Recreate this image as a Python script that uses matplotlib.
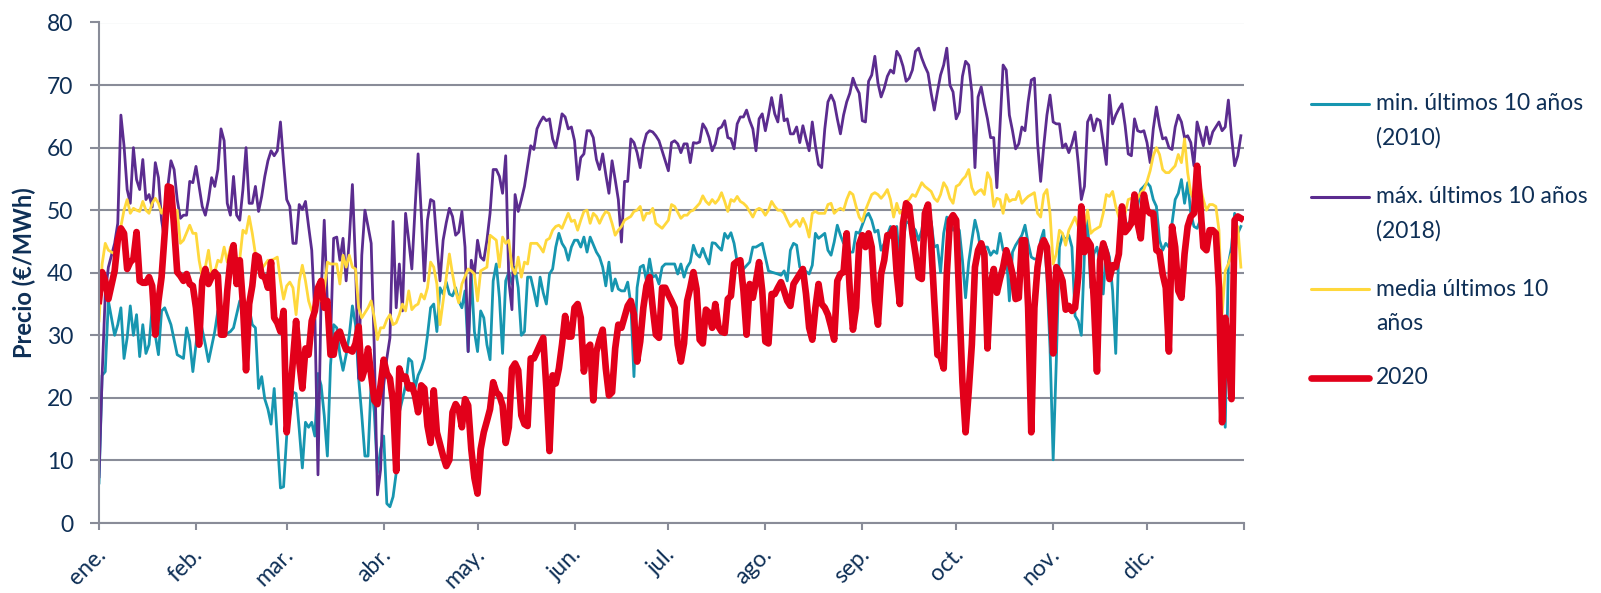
import pandas as pd
import matplotlib.pyplot as plt
import matplotlib.transforms as mtransforms
from matplotlib.lines import Line2D

plt.rcParams['font.family'] = ['Lato', 'DejaVu Sans']

# Precio diario (€/MWh), día del año 2020 (0 = 1 de enero)
dias_min = [0, 1, 2, 3, 5, 6, 7, 8, 9, 10, 11, 12, 13, 14, 15, 16, 17, 18, 19, 20, 21, 23, 25, 27, 28, 29, 30, 31, 32, 34,
            35, 37, 38, 39, 40, 42, 43, 45, 46, 48, 49, 50, 51, 52, 53, 54, 55, 56, 58, 59, 60, 62, 63, 64, 65, 66, 67, 68, 69, 70,
            71, 72, 73, 74, 75, 76, 77, 78, 79, 80, 81, 82, 83, 84, 85, 86, 87, 88, 89, 90, 91, 92, 93, 94, 95, 96, 97, 98, 99, 100,
            101, 102, 103, 104, 105, 106, 107, 108, 109, 110, 111, 112, 113, 114, 115, 116, 117, 118, 119, 120, 121, 122, 123, 124, 125, 126, 127, 128, 129, 130,
            131, 132, 133, 134, 135, 136, 137, 138, 139, 140, 141, 142, 143, 144, 145, 146, 147, 148, 149, 150, 151, 152, 153, 154, 155, 156, 157, 159, 160, 161,
            162, 163, 164, 165, 166, 167, 168, 169, 170, 171, 172, 173, 174, 175, 176, 177, 178, 179, 180, 181, 182, 183, 184, 185, 186, 187, 188, 189, 190, 191,
            192, 193, 194, 195, 196, 197, 198, 199, 200, 201, 202, 203, 204, 206, 208, 209, 210, 212, 214, 215, 217, 218, 219, 220, 221, 222, 223, 224, 225, 227,
            228, 229, 230, 232, 233, 234, 235, 236, 237, 238, 239, 240, 241, 242, 243, 245, 246, 247, 248, 249, 250, 251, 253, 254, 255, 256, 257, 258, 259, 260,
            261, 262, 263, 264, 265, 266, 267, 268, 269, 270, 271, 272, 273, 274, 275, 276, 277, 278, 279, 280, 281, 282, 283, 284, 285, 286, 287, 288, 289, 290,
            291, 292, 293, 294, 295, 296, 297, 298, 299, 300, 301, 302, 303, 304, 305, 306, 307, 308, 309, 310, 311, 312, 313, 314, 315, 316, 317, 318, 319, 320,
            321, 322, 323, 324, 325, 326, 327, 328, 330, 331, 332, 333, 334, 335, 336, 337, 338, 339, 340, 341, 342, 344, 345, 346, 347, 348, 349, 350, 351, 352,
            353, 354, 355, 356, 357, 358, 359, 360, 361, 362, 363, 364, 365]
precio_min = [6.4, 23.6, 24.2, 35.5, 30, 31.7, 34.4, 26.3, 29.6, 34.7, 30, 33.3, 26.6, 31.7, 27.1, 28.5, 34.4, 30, 26.9, 33.9, 34.4, 31.7, 26.9, 26.3, 31.2, 29, 24.2, 28.5, 33.3, 28.5,
              25.8, 30.6, 33.9, 30, 30, 30.6, 31.2, 35.5, 35.5, 34.4, 31.7, 31.2, 21.5, 23.4, 19.8, 18.2, 15.8, 21.5, 5.6, 5.8, 13.9, 20.9, 20.7, 15, 8.8, 16.1, 15.3, 16.1, 13.9, 23.9,
              22, 17.2, 10.7, 25.2, 31.7, 31.2, 26.9, 24.4, 26.9, 30, 34.7, 31.7, 23.1, 17.2, 10.7, 10.7, 22.5, 17.7, 8, 11.8, 13.9, 3.1, 2.6, 4.2, 8, 17.7, 19.8, 22, 26.3, 25.8,
              21.5, 23.6, 24.7, 26.3, 30, 34.4, 35, 30.6, 37.6, 36.6, 38.5, 36.6, 36.3, 37.6, 35.5, 34.4, 37.1, 27.4, 39.8, 30.6, 27.4, 33.9, 32.8, 28.5, 26.1, 38.7, 41.4, 36, 27.1, 38.7,
              40.1, 38.2, 40.9, 37.6, 30, 30.6, 39.3, 39.3, 37.1, 34.7, 39.3, 36.8, 35, 39.8, 40.6, 44.1, 46.3, 44.7, 43.9, 42, 44.1, 45.2, 45.2, 44.1, 45.7, 43.3, 45.7, 43.3, 42.5, 40.9,
              37.9, 41.7, 37.1, 39, 37.4, 37.1, 37.1, 38.5, 35, 23.4, 37.6, 40.9, 41.2, 38.7, 42.2, 39.3, 39.6, 38.2, 40.9, 41.4, 41.4, 41.4, 41.4, 39.8, 41.4, 39.3, 40.9, 41.7, 44.4, 43,
              42.5, 43.9, 42.5, 41.4, 44.8, 44.7, 44.1, 43.6, 46.3, 45.5, 46.4, 44.7, 41.7, 40.6, 41.7, 44.1, 44.1, 44.7, 40.3, 40.1, 39.8, 39.6, 40.3, 38.7, 43.6, 44.7, 44.4, 40.9, 40.6, 39.8,
              41.2, 46.3, 45.5, 46.3, 43.6, 42.8, 44.9, 47.6, 46, 44.7, 45.7, 43.3, 43.3, 46.5, 46.3, 49, 49.5, 48.4, 46.5, 46.8, 43.6, 44.7, 47.4, 46.3, 47.4, 41.2, 44.7, 48.2, 47.9, 47.4,
              46.8, 45.2, 46.8, 50, 49, 48.2, 44.1, 44.4, 40.1, 46.3, 48.9, 48.2, 46.8, 47.4, 46.8, 42, 36, 41.7, 45.2, 48.4, 46.3, 43, 44.1, 44.1, 42.8, 43.5, 43.1, 46.3, 43.6, 43.3,
              35.5, 43.3, 44.4, 45.2, 46, 47.6, 44.7, 42.5, 42.2, 42.2, 45.2, 46.8, 39.5, 27.9, 10.1, 25.8, 44.1, 46, 45.2, 46, 44.1, 33.1, 32.3, 30, 43, 48.4, 37.6, 43, 44.1, 41.4,
              36.6, 44.1, 42.5, 37.1, 27.1, 44.1, 47.4, 47.4, 48.4, 48.7, 50.6, 53.3, 53.8, 54.4, 53.8, 51.7, 50.6, 45.2, 43.6, 44.7, 44.1, 51.7, 52.7, 54.9, 51.1, 54.4, 49.5, 47.4, 47.1, 48.4,
              46.3, 44.7, 46.8, 46.8, 46.3, 44.1, 27.9, 15.3, 41.4, 44.1, 49.5, 46.3, 47.4]

dias_max = [0, 1, 2, 3] + list(range(5, 180)) + list(range(182, 366))
precio_max = [7.4, 23.6, 36.6, 40.9,
              44.7, 47.9, 65.2, 60.3, 53.3, 51.1, 60, 54.9, 53.3, 58.1, 51.7, 52.5, 50.5, 57.6, 55.2, 48.4, 45.2, 53.8, 57.9, 56.5, 51.7, 48.7, 49.2, 49.2, 54.6, 54.4, 57,
              53.8, 50.6, 49.2, 51.7, 55.2, 53.8, 56.5, 63, 61.1, 51.1, 49.2, 55.4, 49.2, 48.4, 53.3, 60, 51.1, 51.1, 53.8, 49.8, 52.2, 55.4, 57.9, 59.5, 58.7, 59.5, 64.1, 57.6, 51.7, 50.6,
              44.7, 44.7, 50.9, 50.1, 51.4, 47.4, 43.6, 33.3, 7.7, 36.6, 48.4, 35, 29, 45.5, 45.7, 42, 45.5, 38.7, 45.2, 54.1, 41.4, 23.1, 42.8, 50, 47.4, 44.7, 27.9, 4.5, 8.5, 22,
              26.3, 29.6, 48.2, 34.4, 41.4, 33.9, 49.5, 45.2, 40.6, 50, 59, 49.5, 38.7, 48.4, 51.7, 51.4, 44.7, 38.7, 45.2, 48, 50.3, 49, 46, 46.5, 49.8, 44.1, 27.4, 42, 39.8, 45.2,
              42.5, 42, 45.2, 49.5, 56.5, 56.5, 55.4, 52.7, 58.7, 38.7, 34.1, 52.5, 49.8, 51.7, 53.8, 57, 60.3, 59.7, 63, 64.1, 64.9, 64.3, 64.6, 61.4, 60, 62.5, 65.4, 64.9, 63, 63.3,
              61.1, 54.9, 58.4, 59, 62.7, 62.7, 61.6, 58.1, 56.5, 59, 55.7, 52.7, 57.9, 54.9, 51.7, 44.9, 54.6, 54.6, 61.4, 60.8, 59.2, 56.8, 60.3, 62.2, 62.7, 62.5, 61.9, 61.1,
              56.3, 60.8, 61.1, 60.6, 59.2, 60.6, 60.6, 57.6, 60.8, 60.7, 60.9, 63.8, 63, 61.6, 59.5, 60.6, 63, 63.3, 64.3, 61.6, 61.4, 59.8, 63.8, 64.9, 64.9, 66, 64.3, 63, 59.5, 64.6,
              65.4, 62.7, 65.2, 68, 65.4, 64.1, 68.4, 64.3, 64.6, 62.2, 62.2, 63.3, 60.8, 63.5, 61.4, 59.5, 64.1, 60.3, 57.3, 56.8, 63, 67.3, 68.4, 67.3, 64.6, 62.2, 65.2, 67.3, 68.7, 71.1,
              69.7, 68.7, 64.3, 64.1, 70.6, 71.6, 74.6, 70.3, 68.1, 69.5, 71.4, 72.4, 71.9, 75.4, 74.6, 73, 70.6, 71.1, 72.4, 75.4, 75.9, 74.3, 73, 71.9, 68.7, 66, 68.9, 71.6, 73.2, 75.9,
              70, 68.9, 64.6, 65.7, 71.4, 73.8, 73.2, 68.9, 56.8, 68.1, 69.7, 67, 64.6, 61.6, 61.6, 53.6, 63.5, 73.2, 72.4, 65.2, 62.7, 59.8, 60.6, 63.3, 62.7, 67.3, 70.8, 71.1, 60.8, 54.6,
              60.3, 65.2, 68.4, 64.1, 63.8, 63.8, 60, 60.6, 59.2, 60.6, 62.5, 57.6, 51.7, 53.8, 64.1, 65.2, 62.7, 64.6, 64.3, 60.8, 57.3, 68.4, 63.8, 65.2, 66.2, 67, 63.5, 59, 58.7, 64.6,
              62.7, 62.5, 62.7, 60.8, 57.6, 63, 66.5, 63.5, 61.4, 61.6, 60, 59.7, 63.3, 65.2, 64.1, 61.6, 61.9, 60.8, 57.1, 64.1, 62.2, 60.3, 63.3, 60.6, 62.5, 63.3, 64.1, 62.7, 63.3, 67.6,
              61.9, 57.1, 58.7, 61.9]

dias_media = [0, 1, 2, 3, 5, 6, 7, 8, 9, 10, 11, 12, 13, 14, 15, 16, 17, 18, 19, 20, 21, 22, 23, 24, 25, 26, 27, 29, 30, 31,
              32, 33, 34, 35, 36, 37, 38, 39, 40, 41, 42, 43, 44, 45, 46, 47, 48, 49, 50, 51, 52, 54, 55, 56, 57, 58, 59, 60, 61, 62,
              63, 64, 65, 66, 67, 68, 69, 70, 71, 72, 73, 74, 76, 77, 78, 79, 80, 81, 82, 83, 84, 85, 86, 87, 88, 89, 90, 91, 92, 93,
              94, 95, 96, 97, 98, 99, 100, 101, 102, 103, 104, 105, 106, 107, 108, 109, 110, 111, 112, 113, 114, 115, 116, 118, 119, 120, 121, 122, 123, 124,
              125, 127, 128, 129, 130, 131, 132, 133, 134, 135, 136, 137, 138, 139, 140, 141, 142, 143, 144, 145, 146, 147, 148, 150, 151, 152, 153, 154, 155, 156,
              157, 158, 159, 160, 161, 162, 163, 164, 165, 166, 167, 168, 170, 171, 172, 173, 174, 175, 176, 177, 178, 180, 182, 183, 184, 186, 187, 188, 189, 190,
              192, 193, 194, 195, 196, 197, 198, 199, 200, 201, 202, 203, 204, 205, 206, 207, 209, 210, 211, 212, 213, 214, 215, 216, 217, 218, 219, 220, 221, 222,
              223, 224, 225, 226, 227, 228, 229, 230, 232, 233, 234, 235, 236, 237, 238, 239, 240, 241, 242, 243, 244, 245, 247, 248, 249, 250, 251, 252, 253, 254,
              255, 256, 257, 258, 259, 260, 261, 262, 263, 264, 266, 267, 268, 269, 270, 271, 272, 273, 274, 275, 276, 277, 278, 279, 280, 281, 282, 283, 284, 285,
              286, 287, 288, 289, 290, 291, 292, 293, 294, 295, 296, 297, 298, 299, 300, 301, 302, 303, 304, 305, 306, 307, 308, 309, 310, 312, 313, 314, 315, 316,
              317, 318, 320, 321, 322, 323, 324, 325, 326, 327, 328, 329, 330, 331, 332, 333, 334, 335, 336, 337, 338, 339, 340, 341, 342, 344, 345, 346, 347, 348,
              349, 350, 351, 352, 353, 354, 355, 356, 357, 358, 359, 360, 361, 362, 363, 364, 365]
precio_media = [32.3, 41.4, 44.7, 43.6, 43, 45.2, 47.4, 50, 51.7, 49.5, 50.3, 50, 49.8, 51.4, 50, 49.5, 51.1, 51.9, 51.1, 49.5, 50.6, 50, 51.1, 49.5, 50, 44.7, 45.2, 47.6, 46.3, 46.3,
                42, 39.3, 40.9, 43.6, 39.8, 40.1, 42, 41.7, 44.1, 41.7, 44.1, 44.7, 40.9, 42.2, 46.8, 46.3, 49, 46.3, 43, 40.9, 40.6, 42, 42, 42.2, 42.5, 38.7, 35.8, 37.9, 38.5, 37.6,
                33.3, 38.7, 41.2, 38.7, 35.5, 33.9, 32.8, 36, 35.5, 37.1, 41.7, 41.4, 41.4, 38.2, 42.8, 40.9, 42.8, 40.9, 40.6, 34.4, 32.8, 33.6, 34.4, 35.5, 32.8, 29.3, 31.2, 31.2, 32.5, 33.3,
                31.7, 32, 33.3, 35, 33.9, 37.1, 34.1, 34.7, 35, 36.6, 35.8, 37.6, 41.7, 40.9, 38.2, 31.7, 35.5, 39.3, 43, 39.8, 37.1, 35.2, 38.2, 40.6, 40.3, 39.8, 35.5, 40.3, 40.6, 40.9,
                46, 45.2, 40.9, 45.7, 44.7, 45.2, 40.9, 39.8, 42.5, 39.3, 41.7, 41.4, 44.7, 44.7, 44.7, 44.1, 43.3, 45.2, 45.5, 46.8, 47.4, 47.6, 47.1, 49.5, 48.2, 48.4, 46.8, 48.4, 49.8, 50,
                47.9, 49.5, 49, 47.9, 49, 49.8, 49.5, 47.9, 46, 46.8, 47.4, 48.4, 49, 49.8, 50, 50.6, 48.4, 49.5, 49.5, 50.3, 47.9, 47.1, 48.4, 50.9, 50.6, 48.7, 49.2, 49.2, 49.8, 50,
                51.1, 52.3, 51.4, 50.9, 51.7, 51.1, 51.7, 52.8, 51.4, 49.8, 51.7, 51.4, 52.2, 51.4, 51.1, 50.6, 48.9, 50, 50.3, 50, 49.2, 50, 51.4, 50.6, 50, 50, 49.5, 48.4, 47.4, 47.9,
                48.4, 47.4, 48.7, 47.6, 45.7, 49.5, 49.8, 49.5, 49.5, 50.9, 51.1, 49.5, 50, 50.3, 50, 51.7, 52.9, 52.5, 50.6, 48.9, 48.2, 50, 52.5, 52.8, 52.5, 51.9, 52.5, 53.3, 51.7, 48.9,
                51.1, 49.5, 50, 51.4, 51.7, 52.5, 52.2, 53.3, 54.4, 53.8, 53, 51.9, 51.4, 52.5, 54.4, 53.6, 51.9, 51.1, 53.8, 54.1, 54.9, 55.4, 56.5, 53.6, 52.5, 53, 53.3, 52.5, 56, 54.9,
                50.6, 51.9, 51.7, 49.5, 52.5, 51.4, 51.7, 51.7, 53, 51.1, 51.7, 52.2, 52.5, 52.8, 49.5, 48.9, 52.5, 53.3, 49.5, 41.4, 43, 46.8, 46.3, 44.4, 46.8, 48.9, 47.4, 48.9, 47.4, 50,
                46.3, 46.8, 47.4, 49.5, 52.5, 52.2, 53, 50.6, 48.9, 50, 49.5, 51.7, 51.9, 50.9, 51.9, 52.8, 53.3, 54.6, 56.3, 58.7, 60, 58.9, 56.5, 56, 56, 57.1, 58.9, 57.6, 61.4, 56,
                52.7, 51.7, 50, 53.8, 51.7, 50, 50.9, 50.9, 50.6, 46.8, 33.3, 40.3, 41.4, 43, 42, 47.4, 40.9]

dias_2020 = [0, 1, 2, 3] + list(range(5, 109)) + list(range(110, 168)) + list(range(169, 366))
precio_2020 = [35.5, 40.1, 38.7, 35.8,
               40.3, 45.2, 47.1, 46.3, 40.6, 41.7, 42.2, 46.5, 38.7, 38.4, 38.4, 39.3, 37.9, 30.1, 35.5, 39.3, 46.3, 53.8, 53.6, 47.4, 40.1, 39.5, 38.7, 39.8, 38.2, 37.9,
               34.4, 28.5, 38.7, 40.6, 38.2, 39.3, 40.1, 39.5, 30.1, 30.1, 37.1, 42, 44.4, 38.2, 42, 35, 24.4, 35, 37.9, 42.8, 42.5, 39.5, 39.3, 37.6, 41.7, 32.8, 32, 30.6, 33.9, 14.5,
               19.8, 26, 32.3, 25.8, 21.5, 27.9, 26.9, 32.3, 33.9, 37.6, 38.7, 34.4, 35.5, 26.9, 26.9, 30.1, 30.6, 29, 27.7, 27.7, 27.4, 28.7, 31.4, 23.1, 24.7, 27.9, 23.6, 19.6, 19, 22,
               26.1, 23.9, 23.1, 19.3, 8.3, 24.7, 23.1, 23.4, 21.5, 22, 20.4, 17.7, 22, 21.5, 15.5, 12.8, 21.2, 14.5,
               10.7, 9.1, 10.1, 17.7, 19, 18.2, 15.3, 19.8, 18.8, 11.8, 7.2, 4.7, 11.8, 14.5, 16.3, 18.2, 22.5, 20.9, 20.4, 18.8, 12.8, 15.3, 24.7, 25.5, 24.4, 17.2, 15.8, 15.5, 26.3, 26.3,
               27.4, 28.5, 29.6, 21.5, 11.5, 23.6, 22.3, 24.7, 28.5, 33.1, 29.8, 29.8, 34.4, 35, 32.8, 24.2, 27.9, 28.5, 19.6, 27.4, 29.3, 30.9, 24.7, 20.4, 20.9, 27.9, 31.7, 31.2,
               34.7, 35.5, 33.3, 25.8, 29, 34.4, 37.9, 39.3, 34.4, 30.1, 29.6, 37.6, 37.6, 36.5, 35.5, 34.4, 28.5, 25.8, 28.7, 35.5, 37.6, 40.1, 37.4, 29.3, 28.7, 34.1, 33.6, 31.2, 35, 31.4,
               30.6, 30.4, 35.8, 36.3, 41.4, 41.8, 42, 37.1, 30.1, 38.2, 36, 38.7, 41.7, 37.1, 29, 28.7, 36.6, 36.6, 37.6, 38.5, 37.1, 35.5, 34.7, 38.2, 39, 39.8, 40.6, 36.6, 31.2, 29.3,
               34.4, 38.2, 35, 34.4, 33.3, 31.4, 29.3, 38.7, 39.8, 40.1, 46.3, 37.1, 30.9, 34.4, 44.6, 46, 44.1, 46.3, 44.1, 35.5, 31.7, 39.8, 42, 46, 46, 47.1, 39.8, 35, 47.9, 51.1,
               50.6, 46.3, 43, 39.3, 39, 49.5, 50.9, 44.7, 35.5, 26.9, 26.6, 24.7, 39.8, 48.4, 49.2, 48.4, 35.5, 22.5, 14.5, 21, 28.5, 40.9, 43.6, 44.7, 43, 27.9, 38.2, 40.6, 36.8, 39,
               40.9, 43.6, 42, 39.8, 35.8, 36, 45.2, 45.2, 34.4, 14.5, 34.4, 40.9, 44.1, 45.2, 44.1, 36.6, 27.1, 40.9, 40.1, 38.7, 34.1, 34.7, 33.9, 34.4, 39.3, 50.6, 43.3, 45.2, 44.4, 35.5,
               24.2, 42, 44.7, 43, 39, 41.2, 40.9, 43, 50.6, 46.5, 47.1, 47.9, 52.5, 47.9, 45.5, 52.5, 50, 49.5, 49.5, 43.6, 43.3, 39.8, 37.6, 27.4, 47.4, 44.1, 37.1, 36, 43, 47.4,
               49, 49.5, 57.1, 51.2, 44.1, 43.6, 46.8, 46.8, 46.3, 37.6, 16.1, 32.8, 27.9, 19.8, 48.4, 49, 48.7]

meses = ['ene.', 'feb.', 'mar.', 'abr.', 'may.', 'jun.', 'jul.', 'ago.', 'sep.', 'oct.', 'nov.', 'dic.']

navy = '#0e2f56'
gris = '#898c98'
c_min = '#1796b0'
c_max = '#5b2c8f'
c_media = '#ffd83c'
c_2020 = '#e2001a'

inicio = pd.Timestamp('2020-01-01')
def fechas(d):
    return inicio + pd.to_timedelta(d, unit='D')

fig = plt.figure(figsize=(16.01, 5.93), dpi=100)
ax = fig.add_axes([99 / 1601, 1 - 523 / 593, (1244 - 99) / 1601, (523 - 22.5) / 593])

ax.plot(fechas(dias_min), precio_min, color=c_min, lw=2.0, solid_joinstyle='round')
ax.plot(fechas(dias_max), precio_max, color=c_max, lw=2.0, solid_joinstyle='round')
ax.plot(fechas(dias_media), precio_media, color=c_media, lw=2.0, solid_joinstyle='round')
ax.plot(fechas(dias_2020), precio_2020, color=c_2020, lw=4.8, solid_joinstyle='round')

ax.set_xlim(inicio, pd.Timestamp('2021-01-01'))
ax.set_ylim(0, 80)
ax.set_yticks(range(0, 81, 10))
ticks = pd.date_range('2020-01-01', '2021-01-01', freq='MS')
ax.set_xticks(ticks)
ax.set_xticklabels(meses + [''])

ax.grid(axis='y', color=gris, lw=1.5)
ax.set_axisbelow(True)
for s in ['top', 'right']:
    ax.spines[s].set_visible(False)
for s in ['left', 'bottom']:
    ax.spines[s].set_color(gris)
    ax.spines[s].set_linewidth(1.5)

ax.tick_params(axis='y', colors=gris, labelcolor=navy, labelsize=16.5, length=6.5, width=1.5, pad=12)
ax.tick_params(axis='x', colors=gris, labelcolor=navy, labelsize=16.5, length=5, width=1.5, pad=10)
desplaza = mtransforms.ScaledTranslation(-4 / 100, 0, fig.dpi_scale_trans)
for lab in ax.get_xticklabels():
    lab.set_rotation(45)
    lab.set_ha('right')
    lab.set_va('top')
    lab.set_rotation_mode('anchor')
    lab.set_transform(lab.get_transform() + desplaza)

ax.set_ylabel('Precio (€/MWh)', fontsize=17, fontweight='bold', color=navy, labelpad=8)

# leyenda a mano, a la derecha
entradas = [(c_min, 2.2, ['min. últimos 10 años', '(2010)'], 104),
            (c_max, 2.2, ['máx. últimos 10 años', '(2018)'], 197),
            (c_media, 2.2, ['media últimos 10', 'años'], 289),
            (c_2020, 4.8, ['2020'], 378)]
W, H = 1601, 593
for color, lw, lineas, y in entradas:
    fig.add_artist(Line2D([1311 / W, 1369 / W], [1 - y / H, 1 - y / H], color=color, lw=lw,
                          solid_capstyle='round', transform=fig.transFigure))
    for i, t in enumerate(lineas):
        fig.text(1376 / W, 1 - (y + i * 34) / H, t, fontsize=16.5, color=navy, va='center', ha='left')

plt.savefig('out.png', dpi=100)
